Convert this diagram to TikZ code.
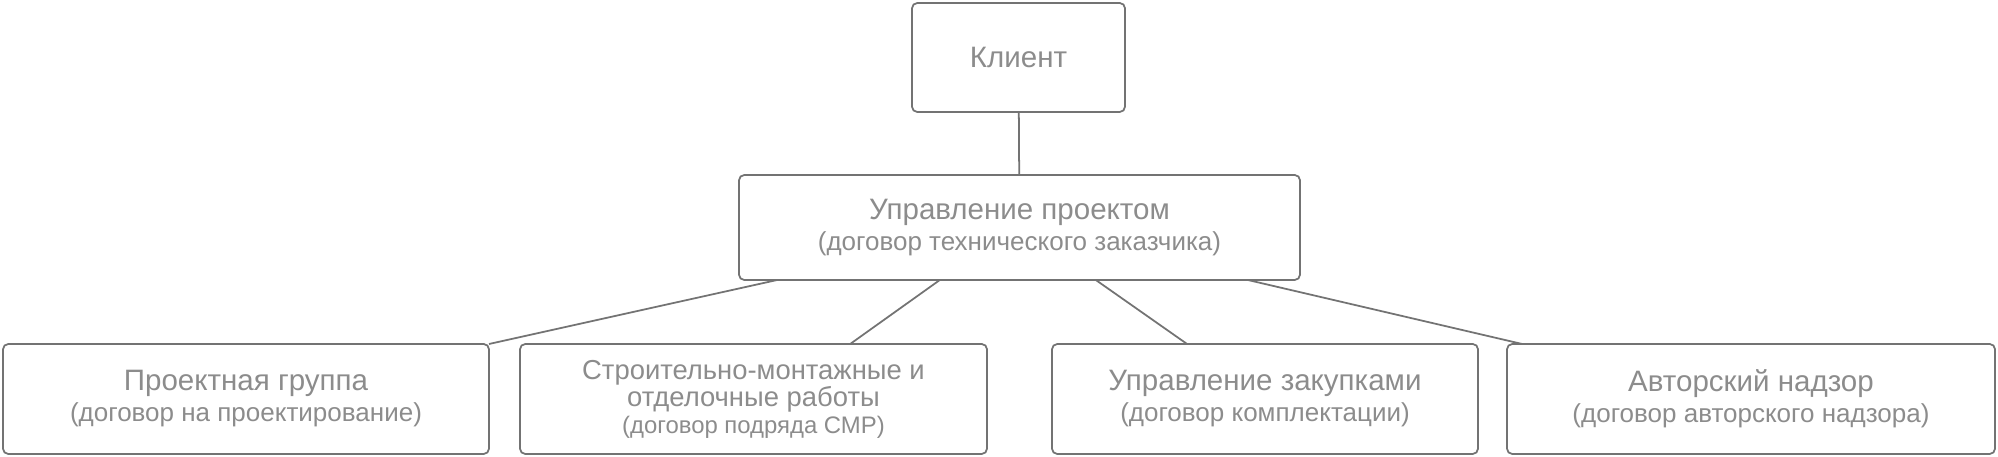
\documentclass[tikz,border=0pt]{standalone}
\usepackage{fontspec}
\setmainfont{Liberation Sans}
\usetikzlibrary{calc}
\definecolor{boxline}{gray}{0.45}
\definecolor{boxtext}{gray}{0.55}
\newcommand{\contract}[1]{{\fontsize{7.4}{8.8}\selectfont #1}}
\begin{document}
\begin{tikzpicture}
[font=\fontsize{8.4}{8.8}\selectfont,
       org/.style={draw=boxline, line width=0.5pt, rounded corners=1.5pt, text=boxtext,
                   align=center, inner sep=0pt, outer sep=0pt},
       link/.style={draw=boxline, line width=0.5pt}]
  \useasboundingbox (0,0) rectangle (19.98,4.57);
  % top
  \node[org, minimum width=2.13cm, minimum height=1.09cm] (client) at (10.185,3.995) {Клиент};
  \node[org, minimum width=5.61cm, minimum height=1.05cm] (upr) at (10.195,2.295)
       {Управление проектом\\\contract{(договор технического заказчика)}};
  % contracts
  \node[org, minimum width=4.86cm, minimum height=1.10cm] (proj) at (2.46,0.58)
       {Проектная группа\\\contract{(договор на проектирование)}};
  \node[org, minimum width=4.67cm, minimum height=1.10cm, font=\fontsize{7.8}{7.7}\selectfont] (smr) at (7.535,0.58)
       {Строительно-монтажные и\\отделочные работы\\{\fontsize{6.8}{7.7}\selectfont (договор подряда СМР)}};
  \node[org, minimum width=4.26cm, minimum height=1.10cm] (zak) at (12.65,0.58)
       {Управление закупками\\\contract{(договор комплектации)}};
  \node[org, minimum width=4.88cm, minimum height=1.10cm] (avt) at (17.51,0.58)
       {Авторский надзор\\\contract{(договор авторского надзора)}};
  \draw[link] (client) -- (upr);
  \draw[link] ($(upr.south west)!0.068!(upr.south east)$) -- (proj.north east);
  \draw[link] ($(upr.south west)!0.358!(upr.south east)$) -- ($(smr.north west)!0.707!(smr.north east)$);
  \draw[link] ($(upr.south west)!0.636!(upr.south east)$) -- ($(zak.north west)!0.317!(zak.north east)$);
  \draw[link] ($(upr.south west)!0.907!(upr.south east)$) -- ($(avt.north west)!0.031!(avt.north east)$);
\end{tikzpicture}
\end{document}
